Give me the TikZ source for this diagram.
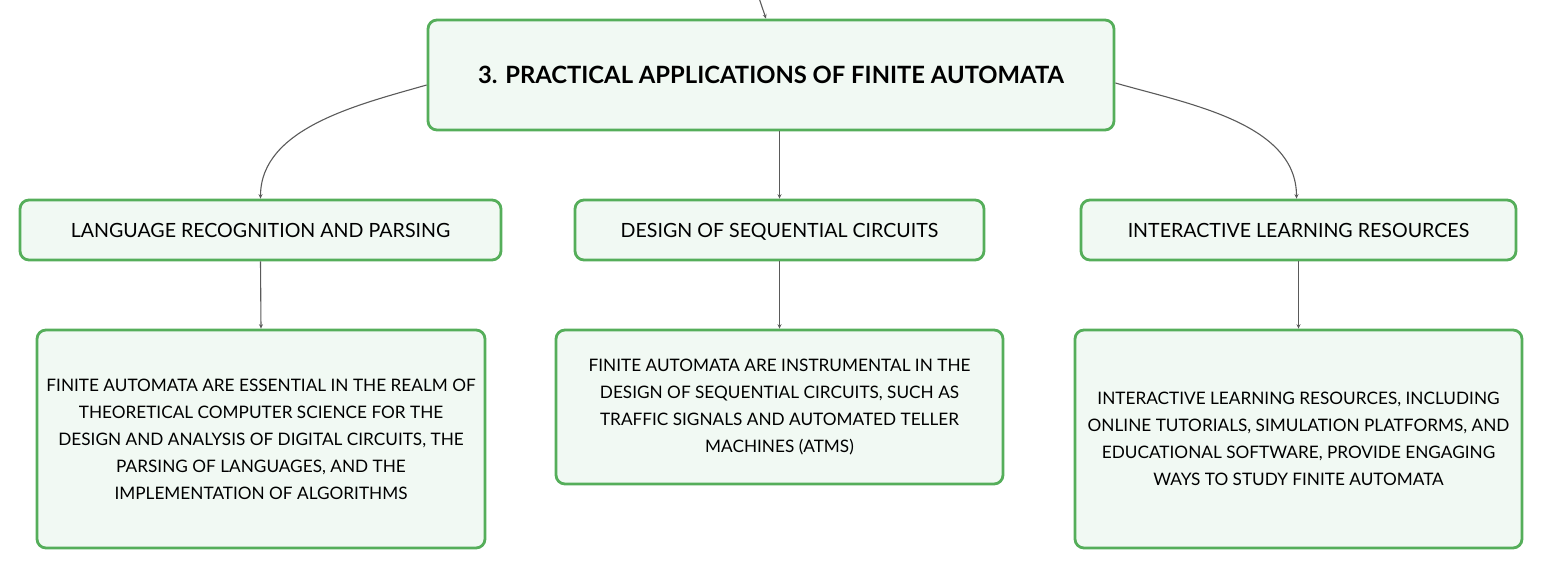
\documentclass[tikz,border=0pt]{standalone}
\usepackage{fontspec}
\setmainfont{Lato}
\usetikzlibrary{arrows.meta}
\definecolor{boxgreen}{HTML}{55AE5A}
\definecolor{boxfill}{HTML}{F1F9F3}
\definecolor{linkgray}{HTML}{5A5A5A}
\tikzset{
  topicbox/.style={draw=boxgreen,fill=boxfill,line width=1.4pt,rounded corners=4.5pt,align=center,inner sep=0pt},
  subbox/.style={topicbox,minimum height=30pt,text height=8pt,text depth=1pt,font=\fontsize{9.8}{12}\selectfont},
  conn/.style={draw=linkgray,line width=0.55pt,-{Stealth[length=2.2pt,width=2pt]}}
}
\begin{document}
\begin{tikzpicture}[x=0.5pt,y=-0.5pt]
            \useasboundingbox (0,0) rectangle (1543,569);
            \node[topicbox,minimum width=343pt,minimum height=55pt,font=\bfseries\fontsize{11.9}{14}\selectfont] (title) at (771,75) {3. PRACTICAL APPLICATIONS OF FINITE AUTOMATA};
            \node[subbox,minimum width=240.5pt] (lang) at (260.5,230) {LANGUAGE RECOGNITION AND PARSING};
            \node[subbox,minimum width=204.5pt] (seq) at (779.5,230) {DESIGN OF SEQUENTIAL CIRCUITS};
            \node[subbox,minimum width=217.5pt] (inter) at (1298.5,230) {INTERACTIVE LEARNING RESOURCES};
            \node[topicbox,minimum width=224pt,minimum height=109pt,font=\fontsize{8.6}{13.5}\selectfont] (langd) at (261,439) {FINITE AUTOMATA ARE ESSENTIAL IN THE REALM OF\\THEORETICAL COMPUTER SCIENCE FOR THE\\DESIGN AND ANALYSIS OF DIGITAL CIRCUITS, THE\\PARSING OF LANGUAGES, AND THE\\IMPLEMENTATION OF ALGORITHMS};
            \node[topicbox,minimum width=223.5pt,minimum height=77pt,font=\fontsize{8.6}{13.5}\selectfont] (seqd) at (779.5,407) {FINITE AUTOMATA ARE INSTRUMENTAL IN THE\\DESIGN OF SEQUENTIAL CIRCUITS, SUCH AS\\TRAFFIC SIGNALS AND AUTOMATED TELLER\\MACHINES (ATMS)};
            \node[topicbox,minimum width=223.5pt,minimum height=109pt,font=\fontsize{8.6}{13.5}\selectfont] (interd) at (1298.5,439) {INTERACTIVE LEARNING RESOURCES, INCLUDING\\ONLINE TUTORIALS, SIMULATION PLATFORMS, AND\\EDUCATIONAL SOFTWARE, PROVIDE ENGAGING\\WAYS TO STUDY FINITE AUTOMATA};
            \coordinate (src) at (759,-2);
            \draw[conn] (src) -- ([xshift=-2.5pt]title.north);
            \draw[conn] ([yshift=-5pt]title.west) to[out=196,in=90,looseness=0.9] (lang.north);
            \draw[conn] (title.south -| seq.north) -- (seq.north);
            \draw[conn] ([yshift=-4pt]title.east) to[out=-16,in=90,looseness=0.9] ([xshift=-1pt]inter.north);
            \draw[conn] (lang.south) -- (langd.north);
            \draw[conn] (seq.south) -- (seqd.north);
            \draw[conn] (inter.south) -- (interd.north);
        \end{tikzpicture}
\end{document}
